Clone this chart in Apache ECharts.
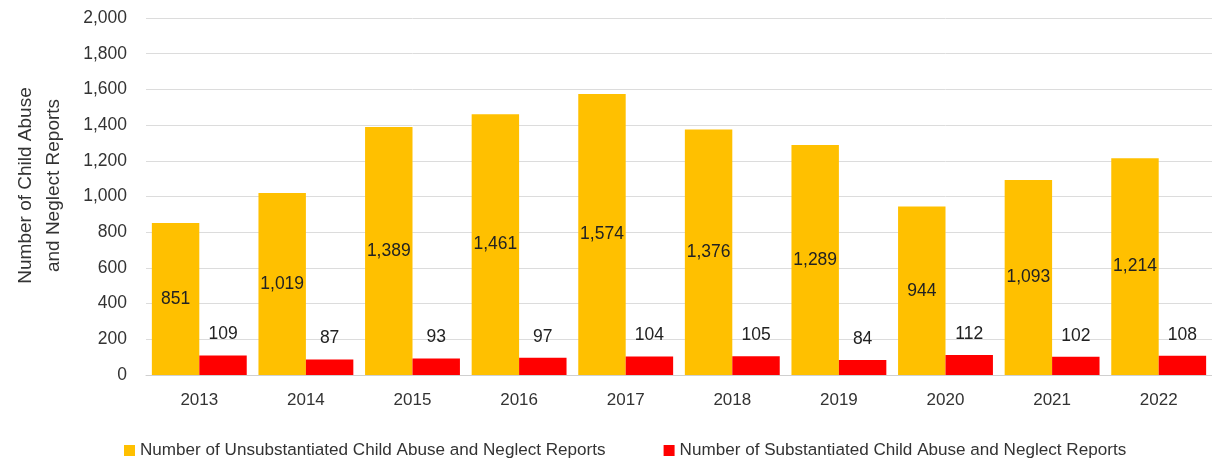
<!DOCTYPE html>
<html style="height: 100%">
<head>
<meta charset="utf-8">
</head>
<body style="height: 100%; margin: 0; background: #fff">
<div id="container" style="width: 1212px; height: 459px"></div>
<script type="text/javascript" src="https://cdn.jsdelivr.net/npm/echarts@6/dist/echarts.min.js"></script>
<script type="text/javascript">
var years = ['2013', '2014', '2015', '2016', '2017', '2018', '2019', '2020', '2021', '2022'];
var unsubstantiated = [851, 1019, 1389, 1461, 1574, 1376, 1289, 944, 1093, 1214];
var substantiated = [109, 87, 93, 97, 104, 105, 84, 112, 102, 108];

var FONT = 'Liberation Sans';

function fmt(v) {
    return v.toLocaleString('en-US');
}

var myChart = echarts.init(document.getElementById('container'));

myChart.setOption({
    animation: false,
    textStyle: { fontFamily: FONT },
    grid: { left: 146, right: 0, top: 18, bottom: 84, outerBoundsMode: 'none' },
    legend: {
        top: 437,
        left: 119,
        itemGap: 58,
        itemWidth: 11,
        itemHeight: 11,
        icon: 'rect',
        textStyle: { fontFamily: FONT, fontSize: 17.1, color: '#333' },
        data: [
            'Number of Unsubstantiated Child Abuse and Neglect Reports',
            'Number of Substantiated Child Abuse and Neglect Reports'
        ]
    },
    xAxis: {
        type: 'category',
        data: years,
        axisLine: { lineStyle: { color: '#d0d0d0' } },
        axisTick: { show: false },
        axisLabel: { fontSize: 17, color: '#333', margin: 17, fontFamily: FONT }
    },
    yAxis: {
        type: 'value',
        min: 0,
        max: 2000,
        interval: 200,
        name: 'Number of Child Abuse\nand Neglect Reports',
        nameLocation: 'middle',
        nameGap: 78,
        nameTextStyle: { fontSize: 19, color: '#333', lineHeight: 28, fontFamily: FONT, padding: [0, 0, 0, 22] },
        axisLine: { show: false },
        axisTick: { show: false },
        splitLine: { lineStyle: { color: '#dcdcdc' } },
        axisLabel: {
            fontSize: 17.5,
            color: '#333',
            margin: 19,
            fontFamily: FONT,
            formatter: function (v) { return fmt(v); }
        }
    },
    series: [
        {
            name: 'Number of Unsubstantiated Child Abuse and Neglect Reports',
            type: 'bar',
            data: unsubstantiated,
            barGap: '0%',
            barCategoryGap: '11%',
            itemStyle: { color: '#FFC000' },
            label: {
                show: true,
                position: 'inside',
                fontSize: 17.5,
                color: '#222',
                fontFamily: FONT,
                formatter: function (p) { return fmt(p.value); }
            }
        },
        {
            name: 'Number of Substantiated Child Abuse and Neglect Reports',
            type: 'bar',
            data: substantiated,
            itemStyle: { color: '#FF0000' },
            label: {
                show: true,
                position: 'top',
                distance: 12,
                fontSize: 17.5,
                color: '#222',
                fontFamily: FONT,
                formatter: function (p) { return fmt(p.value); }
            }
        }
    ]
});
</script>
</body>
</html>
